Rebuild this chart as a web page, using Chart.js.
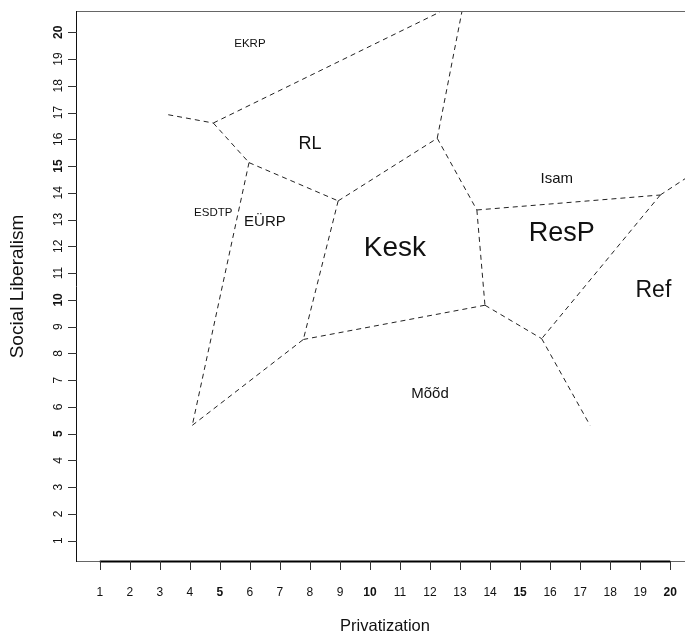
<!DOCTYPE html>
<html>
<head>
<meta charset="utf-8">
<script src="https://cdn.jsdelivr.net/npm/chart.js@4.4.1/dist/chart.umd.min.js"></script>
<style>
html,body{margin:0;padding:0;background:#fff;overflow:hidden;width:685px;height:634px}
#wrap{position:absolute;left:0;top:0;width:700px;height:634px}
</style>
</head>
<body>
<div id="wrap"><canvas id="c" width="700" height="634"></canvas></div>
<script>
// ---------- data ----------
const xTickValues = [1,2,3,4,5,6,7,8,9,10,11,12,13,14,15,16,17,18,19,20];
const yTickValues = [1,2,3,4,5,6,7,8,9,10,11,12,13,14,15,16,17,18,19,20];
const emphasizedTicks = [5,10,15,20];
const xTitle = 'Privatization';
const yTitle = 'Social Liberalism';

// Voronoi vertices (data units)
const vertexX = [3.28, 4.78, 12.33, 5.97, 8.94, 12.24, 13.06, 13.56, 19.67, 21.0, 13.83, 15.72, 17.33, 7.78, 4.08];
const vertexY = [16.92, 16.61, 20.76, 15.13, 13.70, 16.04, 20.76, 13.36, 13.92, 14.90, 9.80, 8.55, 5.31, 8.52, 5.31];
// Voronoi edges (vertex index pairs)
const edgeFrom = [0, 1, 1, 3, 3, 14, 4, 4, 5, 5, 7, 8, 8, 7, 10, 10, 11];
const edgeTo   = [1, 2, 3, 4, 14, 13, 13, 5, 6, 7, 8, 9, 11, 10, 13, 11, 12];

// Party labels
const partyNames = ['EKRP', 'RL', 'ESDTP', 'EÜRP', 'Kesk', 'Mõõd', 'Isam', 'ResP', 'Ref'];
const partyX = [6.0, 8.0, 4.78, 6.5, 10.83, 12.0, 16.22, 16.39, 19.44];
const partyY = [19.58, 15.83, 13.26, 12.92, 11.93, 6.49, 14.52, 12.49, 10.34];

// ---------- style ----------
const FONT = '"Liberation Sans", Arial, Helvetica, sans-serif';
const partyFontPx = [11.5, 18, 11.5, 15, 28, 15, 15, 27, 23];

const datasets = edgeFrom.map((a, i) => {
  const b = edgeTo[i];
  return {
    data: [{x: vertexX[a], y: vertexY[a]}, {x: vertexX[b], y: vertexY[b]}],
    showLine: true,
    borderColor: '#222',
    borderWidth: 1,
    borderDash: [5, 4],
    pointRadius: 0,
    fill: false
  };
});

const decor = {
  id: 'decor',
  beforeDatasetsDraw(chart) {
    const {ctx, chartArea: a, scales: {x, y}} = chart;
    ctx.save();
    // box
    ctx.lineWidth = 1;
    ctx.strokeStyle = '#666';
    ctx.beginPath();
    ctx.moveTo(a.left - 0.5, a.top - 0.5);
    ctx.lineTo(a.right + 0.5, a.top - 0.5);
    ctx.moveTo(a.left - 0.5, a.bottom + 0.5);
    ctx.lineTo(a.right + 0.5, a.bottom + 0.5);
    ctx.stroke();
    ctx.strokeStyle = '#111';
    ctx.beginPath();
    ctx.moveTo(a.left - 0.5, a.top - 1);
    ctx.lineTo(a.left - 0.5, a.bottom + 1);
    ctx.stroke();
    // x axis line
    ctx.strokeStyle = '#000';
    ctx.lineWidth = 2;
    ctx.beginPath();
    ctx.moveTo(x.getPixelForValue(xTickValues[0]), a.bottom + 0.5);
    ctx.lineTo(x.getPixelForValue(xTickValues[xTickValues.length - 1]), a.bottom + 0.5);
    ctx.stroke();
    // ticks
    ctx.lineWidth = 1;
    ctx.strokeStyle = '#333';
    ctx.beginPath();
    xTickValues.forEach(v => {
      const px = Math.round(x.getPixelForValue(v)) + 0.5;
      ctx.moveTo(px, a.bottom);
      ctx.lineTo(px, a.bottom + 9);
    });
    yTickValues.forEach(v => {
      const py = Math.round(y.getPixelForValue(v)) + 0.5;
      ctx.moveTo(a.left - 9, py);
      ctx.lineTo(a.left, py);
    });
    ctx.stroke();
    // tick labels
    ctx.fillStyle = '#111';
    ctx.textAlign = 'center';
    ctx.textBaseline = 'middle';
    xTickValues.forEach(v => {
      ctx.font = (emphasizedTicks.includes(v) ? 'bold ' : '') + '12px ' + FONT;
      ctx.fillText(String(v), x.getPixelForValue(v), a.bottom + 32);
    });
    yTickValues.forEach(v => {
      ctx.save();
      ctx.translate(a.left - 18, y.getPixelForValue(v));
      ctx.rotate(-Math.PI / 2);
      ctx.font = (emphasizedTicks.includes(v) ? 'bold ' : '') + '12px ' + FONT;
      ctx.fillText(String(v), 0, 0);
      ctx.restore();
    });
    // axis titles
    ctx.font = '16.5px ' + FONT;
    ctx.fillText(xTitle, (x.getPixelForValue(x.min) + x.getPixelForValue(x.max)) / 2, a.bottom + 65);
    ctx.save();
    ctx.translate(18, (a.top + a.bottom) / 2);
    ctx.rotate(-Math.PI / 2);
    ctx.font = '19px ' + FONT;
    ctx.fillText(yTitle, 0, 0);
    ctx.restore();
    ctx.restore();
  },
  afterDatasetsDraw(chart) {
    const {ctx, scales: {x, y}} = chart;
    ctx.save();
    ctx.fillStyle = '#111';
    ctx.textAlign = 'center';
    ctx.textBaseline = 'middle';
    partyNames.forEach((n, i) => {
      ctx.font = partyFontPx[i] + 'px ' + FONT;
      ctx.fillText(n, x.getPixelForValue(partyX[i]), y.getPixelForValue(partyY[i]));
    });
    ctx.restore();
  }
};

new Chart(document.getElementById('c'), {
  type: 'scatter',
  data: {datasets},
  options: {
    responsive: false,
    animation: false,
    devicePixelRatio: 1,
    layout: {padding: {left: 0, top: 12, right: 7, bottom: 0}},
    plugins: {legend: {display: false}, tooltip: {enabled: false}},
    scales: {
      x: {
        type: 'linear', min: 0.24, max: 20.76,
        grid: {display: false}, border: {display: false},
        ticks: {display: false},
        afterFit: s => { s.height = 73; }
      },
      y: {
        type: 'linear', min: 0.24, max: 20.76,
        grid: {display: false}, border: {display: false},
        ticks: {display: false},
        afterFit: s => { s.width = 77; }
      }
    }
  },
  plugins: [decor]
});
</script>
</body>
</html>
